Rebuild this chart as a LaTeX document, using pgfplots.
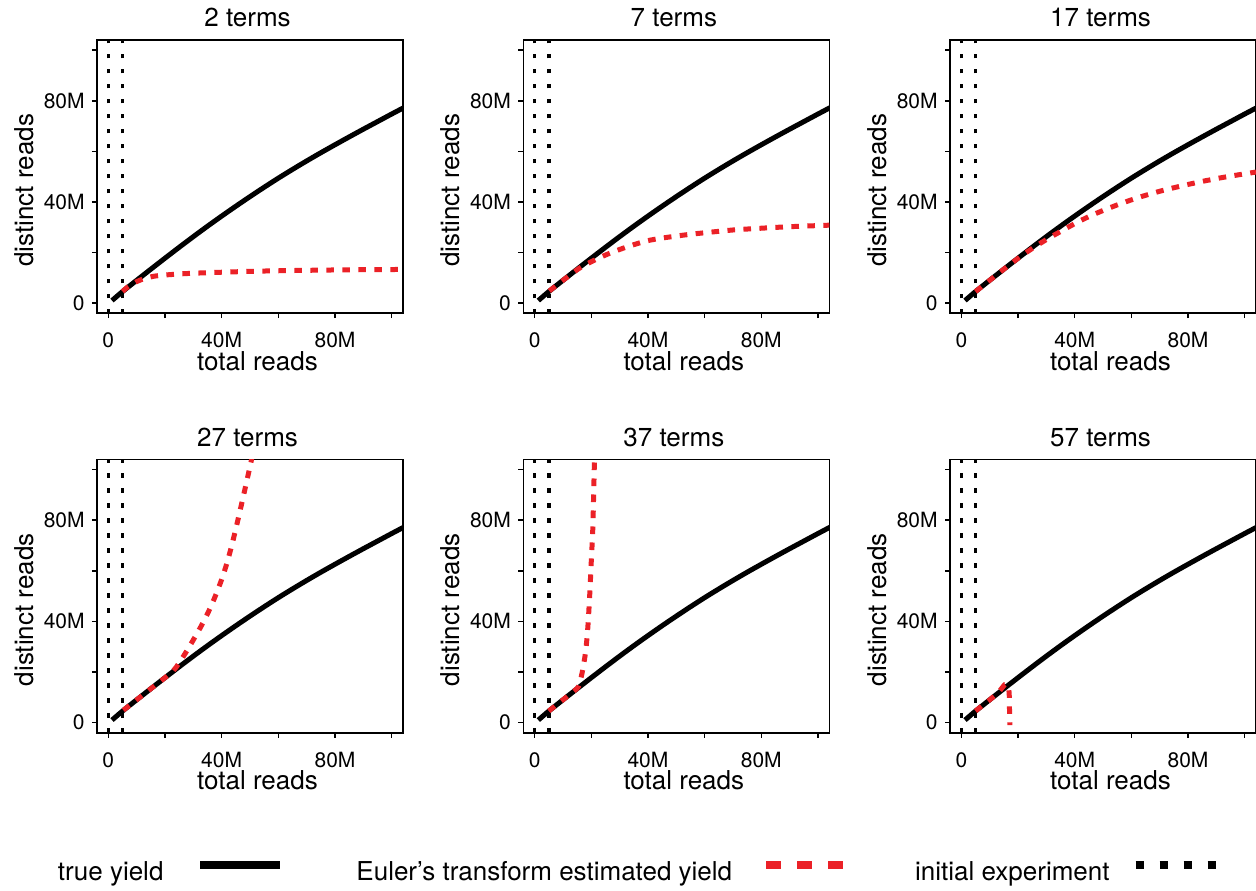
\documentclass[border=0pt]{standalone}
\usepackage{fontspec}
\setmainfont{TeX Gyre Heros}
\usepackage{pgfplots}
\usepackage{pgfplotstable}
\pgfplotsset{compat=1.18}
\definecolor{ered}{RGB}{235,33,39}

\pgfplotstableread{
x y
1.3 1.0
5 4.55
10 9.0
15 13.4
20 17.75
25 22.05
30 26.27
35 30.39
40 34.39
45 38.29
50 42.09
55 45.79
60 49.39
65 52.84
70 56.19
75 59.44
80 62.59
85 65.69
90 68.74
95 71.74
100 74.74
105 77.69
}\truetab

\pgfplotstableread{
x y
5.0 4.6
7 6.5
10 8.5
13 9.8
16 10.6
20 11.1
28 11.7
40 12.2
56 12.7
80 13.1
104 13.3
}\redA

\pgfplotstableread{
x y
5.2 4.8
10 9.0
15 13.2
18 15.2
21 16.9
25 19.0
30 21.2
35 23.1
40 24.7
45 25.7
50 26.5
55 27.2
60 27.8
70 28.9
80 29.6
90 30.2
104 30.8
}\redB

\pgfplotstableread{
x y
5 4.55
10 9.0
15 13.4
20 17.7
25 21.6
30 25.1
35 28.3
40 31.4
45 34.2
50 36.6
55 38.8
60 40.8
65 42.6
70 44.2
75 45.6
80 46.9
85 48.1
90 49.2
95 50.2
104 51.8
}\redC

\pgfplotstableread{
x y
5.3 4.9
10 9.0
15 13.4
20 17.75
23 20.6
25 23.6
27.5 28.0
30 32.7
32.5 37.6
35 43.0
37.5 49.3
40 56.6
42 63.6
44 72.0
46 81.4
48 91.2
50 101.2
52 111.4
}\redD

\pgfplotstableread{
x y
5 4.6
10 9.0
14 12.6
15.5 14.3
16.7 19.4
17.9 27.3
18.7 36.5
19.4 49.6
20.0 64.0
20.5 75.8
20.8 88.9
21.1 103.3
21.2 110
}\redE

\pgfplotstableread{
x y
5 4.6
10 9.0
13 11.9
14.5 13.9
15.3 15.0
16.0 15.1
16.6 14.3
16.9 11
17.0 5
17.1 -1
}\redF

\pgfplotsset{
  every axis title shift=0pt,
  panel/.style={
    scale only axis, width=153pt, height=136.6pt,
    anchor=north west,
    xmin=-4, xmax=104, ymin=-4, ymax=104,
    xtick={0,20,40,60,80,100}, xticklabels={0,,40M,,80M,},
    ytick={0,20,40,60,80,100}, yticklabels={0,,40M,,80M,},
    tick pos=left, tick align=outside, major tick length=2.5pt,
    axis line style={line width=0.8pt},
    tick style={line width=0.8pt, black},
    xticklabel style={font=\fontsize{10.5}{12}\selectfont, anchor=north, inner sep=0pt, yshift=-7pt},
    yticklabel style={font=\fontsize{10.5}{12}\selectfont, anchor=east, inner sep=0pt, xshift=-3.5pt},
    xlabel={total reads}, ylabel={distinct reads},
    label style={font=\fontsize{13}{15}\selectfont},
    xlabel style={at={(axis description cs:0.5245,-0.2086)}, anchor=base},
    ylabel style={at={(axis description cs:-0.209,0.45)}, anchor=base},
    title style={font=\fontsize{13}{15}\selectfont, at={(axis description cs:0.492,1.0487)}, anchor=base, yshift=0pt},
  },
  truey/.style={black, line width=2.5pt, smooth, forget plot},
  esty/.style={ered, line width=2.5pt, dash pattern=on 3.8pt off 4.2pt, smooth, forget plot},
  initl/.style={black, line width=1.6pt, dash pattern=on 2.25pt off 5.25pt, forget plot},
}

\newcommand{\panelcontent}[1]{%
  \addplot[initl] coordinates {(0,-10) (0,110)};
  \addplot[initl] coordinates {(5.1,-10) (5.1,110)};
  \addplot[truey] table[x=x,y=y] {\truetab};
  \addplot[esty] table[x=x,y=y] {#1};
}

\begin{document}
\begin{tikzpicture}
\path[use as bounding box] (0,0) rectangle (628pt,-445pt);

\begin{axis}[panel, at={(48.5pt,-20pt)}, title={2 terms}]
\panelcontent{\redA}
\end{axis}
\begin{axis}[panel, at={(261.65pt,-20pt)}, title={7 terms}]
\panelcontent{\redB}
\end{axis}
\begin{axis}[panel, at={(475pt,-20pt)}, title={17 terms}]
\panelcontent{\redC}
\end{axis}

\begin{axis}[panel, at={(48.5pt,-229.75pt)}, title={27 terms},
  legend columns=3, legend plot pos=right,
  legend style={at={(-0.1275,-0.51)}, anchor=west, draw=none, fill=none,
    inner sep=0pt, outer sep=0pt, font=\fontsize{13}{15}\selectfont,
    nodes={inner sep=0pt},
    /tikz/column 1/.style={column sep=16.5pt},
    /tikz/column 2/.style={column sep=36pt},
    /tikz/column 3/.style={column sep=15pt},
    /tikz/column 4/.style={column sep=33.5pt},
    /tikz/column 5/.style={column sep=11pt}}]
\panelcontent{\redD}
\addlegendimage{legend image code/.code={\draw[black, line width=4pt] (0pt,0.35em) -- (40pt,0.35em);}}
\addlegendentry{true yield}
\addlegendimage{legend image code/.code={\draw[ered, line width=4pt, dash pattern=on 7.5pt off 8pt] (0pt,0.35em) -- (39pt,0.35em);}}
\addlegendentry{Euler’s transform estimated yield}
\addlegendimage{legend image code/.code={\draw[black, line width=4pt, dash pattern=on 4pt off 8pt] (0pt,0.35em) -- (40pt,0.35em);}}
\addlegendentry{initial experiment}
\end{axis}
\begin{axis}[panel, at={(261.65pt,-229.75pt)}, title={37 terms}]
\panelcontent{\redE}
\end{axis}
\begin{axis}[panel, at={(475pt,-229.75pt)}, title={57 terms}]
\addplot[initl] coordinates {(0,-10) (0,110)};
\addplot[initl] coordinates {(5.1,-10) (5.1,110)};
\addplot[truey] table[x=x,y=y] {\truetab};
\addplot[ered, line width=2.5pt, dash pattern=on 3.8pt off 4.2pt, smooth, tension=0.4, forget plot] table[x=x,y=y] {\redF};
\end{axis}
\end{tikzpicture}
\end{document}
